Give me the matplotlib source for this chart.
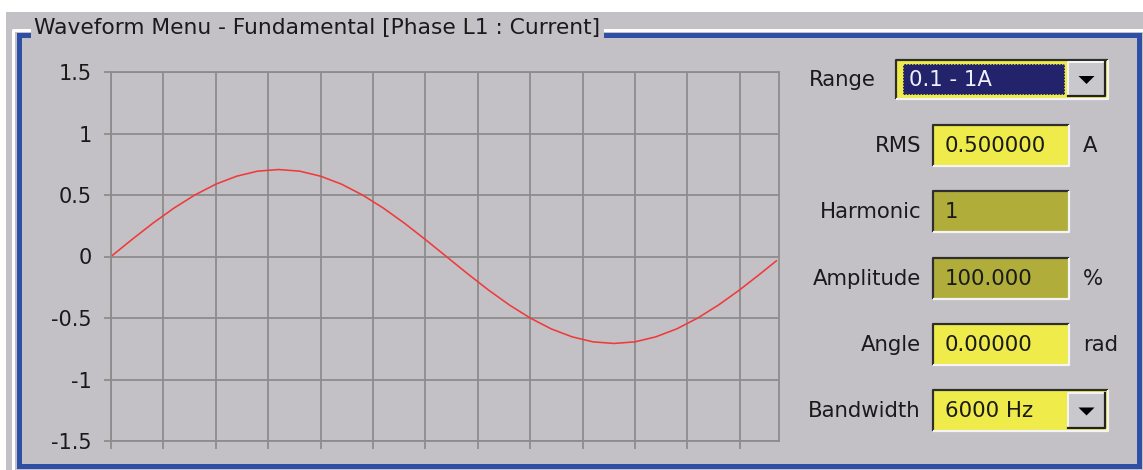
import matplotlib.pyplot as plt
from matplotlib.patches import Rectangle, Polygon

W, H = 1143, 470

# waveform samples (128 samples per period, read every 4th sample)
sample_idx = list(range(0, 128, 4)) + [127]
current = [0.000, 0.138, 0.271, 0.393, 0.500, 0.588, 0.653, 0.694,
           0.707, 0.694, 0.653, 0.588, 0.500, 0.393, 0.271, 0.138,
           0.000, -0.138, -0.271, -0.393, -0.500, -0.588, -0.653, -0.694,
           -0.707, -0.694, -0.653, -0.588, -0.500, -0.393, -0.271, -0.138,
           -0.035]
y_ticks = [-1.5, -1, -0.5, 0, 0.5, 1, 1.5]
y_labels = ['-1.5', '-1', '-0.5', '0', '0.5', '1', '1.5']
x_grid = list(range(0, 130, 10))

title = 'Waveform Menu - Fundamental [Phase L1 : Current]'
field_names = ['Range', 'RMS', 'Harmonic', 'Amplitude', 'Angle', 'Bandwidth']
field_values = ['0.1 - 1A', '0.500000', '1', '100.000', '0.00000', '6000 Hz']
field_units = ['', 'A', '', '%', 'rad', '']
field_kinds = ['selected', 'edit', 'readonly', 'readonly', 'edit', 'combo']

BG = '#c3c1c6'
GRID = '#8c8c8c'
BLUE = '#2f4ea6'
YELLOW = '#eeeb4a'
OLIVE = '#b0ad3a'
NAVY = '#23236c'
PX = 0.72  # points per pixel at dpi 100

plt.rcParams['font.family'] = 'DejaVu Sans'

fig = plt.figure(figsize=(W / 100, H / 100), dpi=100, facecolor='white')

# background layer in pixel coordinates
bg = fig.add_axes([0, 0, 1, 1], zorder=0)
bg.set_xlim(0, W)
bg.set_ylim(H, 0)
bg.axis('off')
bg.add_patch(Rectangle((6, 12), W - 6, H - 12, facecolor=BG, edgecolor='none'))

# group box frame
bg.plot([13, 13, 1141], [470, 30, 30], color='white', lw=3 * PX)
bg.add_patch(Rectangle((18.5, 34.5), 1139 - 18.5, 465.5 - 34.5, facecolor='none',
                       edgecolor=BLUE, lw=5 * PX))
bg.text(34, 28, title, fontsize=15.65, color='#1a1a1a', va='center', ha='left',
        bbox=dict(facecolor=BG, edgecolor='none', pad=2.5), zorder=5)


def sunken(x0, y0, x1, y1, fill):
    bg.add_patch(Rectangle((x0, y0), x1 - x0, y1 - y0, facecolor=fill, edgecolor='none'))
    bg.plot([x0, x0, x1], [y1, y0, y0], color='#2e2e2e', lw=2.2 * PX, solid_capstyle='butt')
    bg.plot([x0, x1, x1], [y1, y1, y0], color='#f4f4f4', lw=2.2 * PX, solid_capstyle='butt')


def button(x0, y0, x1, y1):
    bg.add_patch(Rectangle((x0, y0), x1 - x0, y1 - y0, facecolor='#c9c8cc', edgecolor='none'))
    bg.plot([x0, x0, x1], [y1, y0, y0], color='#f4f4f4', lw=2 * PX)
    bg.plot([x0, x1, x1], [y1, y1, y0], color='#222222', lw=2.2 * PX)
    cx, cy = (x0 + x1) / 2, (y0 + y1) / 2
    bg.add_patch(Polygon([[cx - 8, cy - 3], [cx + 8, cy - 3], [cx, cy + 5]],
                         closed=True, facecolor='black', edgecolor='none'))


row_y = [80, 146, 212, 279, 345, 411]
for name, val, unit, kind, cy in zip(field_names, field_values, field_units, field_kinds, row_y):
    if kind == 'selected':
        bg.text(876, cy, name, fontsize=15.3, ha='right', va='center', color='#1a1a1a')
        sunken(896, cy - 20, 1108, cy + 19, YELLOW)
        bg.add_patch(Rectangle((903, cy - 16), 162, 31, facecolor=NAVY,
                               edgecolor=YELLOW, lw=1.5 * PX, ls=(0, (1, 1))))
        bg.text(909, cy, val, fontsize=15.3, ha='left', va='center', color='#eeeeff')
        button(1068, cy - 18, 1105, cy + 16)
        continue
    bg.text(921, cy, name, fontsize=15.3, ha='right', va='center', color='#1a1a1a')
    if kind == 'combo':
        sunken(933, cy - 21, 1108, cy + 20, YELLOW)
        button(1068, cy - 18, 1105, cy + 17)
    else:
        sunken(933, cy - 21, 1069, cy + 20, OLIVE if kind == 'readonly' else YELLOW)
    bg.text(945, cy, val, fontsize=15.3, ha='left', va='center', color='#1a1a1a')
    if unit:
        bg.text(1083, cy, unit, fontsize=15.3, ha='left', va='center', color='#1a1a1a')

# waveform plot
ax = fig.add_axes([111 / W, 1 - 441 / H, 668 / W, 369 / H], zorder=1)
ax.set_facecolor('none')
ax.plot(sample_idx, current, color='#f03a3a', lw=1.6 * PX)
ax.set_xlim(0, 127.5)
ax.set_ylim(-1.5, 1.5)
ax.set_xticks(x_grid)
ax.set_yticks(y_ticks)
ax.set_yticklabels(y_labels)
ax.grid(True, color=GRID, lw=1.8 * PX)
ax.tick_params(axis='x', length=8 * PX, width=1.8 * PX, color=GRID, labelbottom=False)
ax.tick_params(axis='y', length=7 * PX, width=1.8 * PX, color=GRID, labelsize=15,
               labelcolor='#1a1a1a', pad=12 * PX)
for s in ax.spines.values():
    s.set_color(GRID)
    s.set_linewidth(1.8 * PX)
ax.set_axisbelow(True)

fig.savefig('out.png', dpi=100, facecolor='white')
